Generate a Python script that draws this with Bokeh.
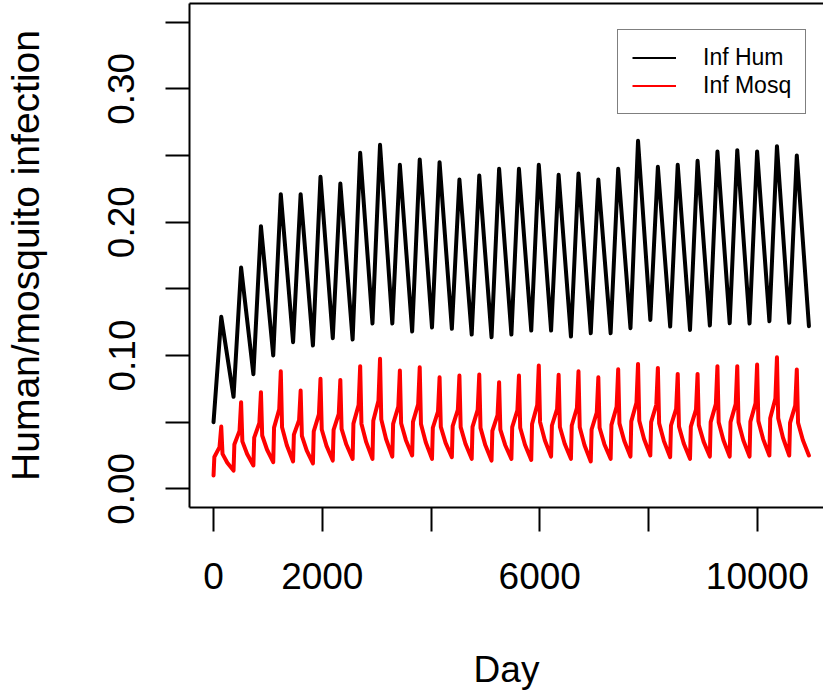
from bokeh.plotting import figure
from bokeh.models import (Range1d, FixedTicker, NumeralTickFormatter, LinearAxis,
                          Legend, LegendItem)
from bokeh.embed import file_html
from bokeh.resources import INLINE

# ---------------- data ----------------
hum_day = [0, 142, 368, 507, 733, 872, 1098, 1237, 1463, 1602, 1828, 1967, 2193, 2332,
           2558, 2697, 2923, 3062, 3288, 3427, 3653, 3792, 4018, 4157, 4383, 4522, 4748,
           4887, 5113, 5252, 5478, 5617, 5843, 5982, 6208, 6347, 6573, 6712, 6938, 7077,
           7303, 7442, 7668, 7807, 8033, 8172, 8398, 8537, 8763, 8902, 9128, 9267, 9493,
           9632, 9858, 9997, 10223, 10362, 10588, 10727, 10950]
hum_val = [0.050, 0.129, 0.069, 0.166, 0.086, 0.197, 0.100, 0.221, 0.110, 0.221, 0.1075,
           0.234, 0.113, 0.229, 0.112, 0.252, 0.124, 0.258, 0.124, 0.243, 0.118, 0.247,
           0.121, 0.245, 0.120, 0.232, 0.1157, 0.235, 0.1137, 0.240, 0.1157, 0.240, 0.1187,
           0.243, 0.1187, 0.2355, 0.1142, 0.2365, 0.1167, 0.232, 0.1167, 0.240, 0.1205,
           0.261, 0.1267, 0.2415, 0.1217, 0.243, 0.1192, 0.246, 0.1225, 0.253, 0.1242,
           0.254, 0.124, 0.253, 0.1257, 0.257, 0.1245, 0.250, 0.122]

mosq_day = [0, 15, 110, 142, 165, 253,
            368, 383, 478, 507, 530, 618,
            733, 748, 843, 872, 895, 983,
            1098, 1113, 1208, 1237, 1260, 1348,
            1463, 1478, 1573, 1602, 1625, 1713,
            1828, 1843, 1938, 1967, 1990, 2078,
            2193, 2208, 2303, 2332, 2355, 2443,
            2558, 2573, 2668, 2697, 2720, 2808,
            2923, 2938, 3033, 3062, 3085, 3173,
            3288, 3303, 3398, 3427, 3450, 3538,
            3653, 3668, 3763, 3792, 3815, 3903,
            4018, 4033, 4128, 4157, 4180, 4268,
            4383, 4398, 4493, 4522, 4545, 4633,
            4748, 4763, 4858, 4887, 4910, 4998,
            5113, 5128, 5223, 5252, 5275, 5363,
            5478, 5493, 5588, 5617, 5640, 5728,
            5843, 5858, 5953, 5982, 6005, 6093,
            6208, 6223, 6318, 6347, 6370, 6458,
            6573, 6588, 6683, 6712, 6735, 6823,
            6938, 6953, 7048, 7077, 7100, 7188,
            7303, 7318, 7413, 7442, 7465, 7553,
            7668, 7683, 7778, 7807, 7830, 7918,
            8033, 8048, 8143, 8172, 8195, 8283,
            8398, 8413, 8508, 8537, 8560, 8648,
            8763, 8778, 8873, 8902, 8925, 9013,
            9128, 9143, 9238, 9267, 9290, 9378,
            9493, 9508, 9603, 9632, 9655, 9743,
            9858, 9873, 9968, 9997, 10020, 10108,
            10223, 10238, 10333, 10362, 10385, 10473,
            10588, 10603, 10698, 10727, 10750, 10838,
            10950]
mosq_val = [0.010, 0.0239, 0.0313, 0.0467, 0.0262, 0.0196,
            0.0137, 0.0332, 0.0435, 0.0650, 0.0356, 0.0261,
            0.0175, 0.0384, 0.0494, 0.0725, 0.0400, 0.0295,
            0.0200, 0.0459, 0.0596, 0.0882, 0.0462, 0.0327,
            0.0205, 0.0407, 0.0514, 0.0737, 0.0398, 0.0288,
            0.0190, 0.0431, 0.0558, 0.0825, 0.0445, 0.0322,
            0.0212, 0.0442, 0.0563, 0.0817, 0.0450, 0.0332,
            0.0225, 0.0489, 0.0628, 0.0920, 0.0489, 0.0350,
            0.0225, 0.0510, 0.0660, 0.0975, 0.0521, 0.0374,
            0.0242, 0.0487, 0.0616, 0.0887, 0.0492, 0.0365,
            0.0250, 0.0502, 0.0634, 0.0912, 0.0486, 0.0349,
            0.0225, 0.0458, 0.0580, 0.0837, 0.0465, 0.0345,
            0.0237, 0.0470, 0.0593, 0.0850, 0.0463, 0.0338,
            0.0225, 0.0465, 0.0592, 0.0857, 0.0457, 0.0328,
            0.0212, 0.0435, 0.0553, 0.0800, 0.0444, 0.0329,
            0.0225, 0.0463, 0.0588, 0.0850, 0.0458, 0.0331,
            0.0217, 0.0486, 0.0628, 0.0925, 0.0502, 0.0365,
            0.0242, 0.0475, 0.0598, 0.0855, 0.0464, 0.0338,
            0.0225, 0.0475, 0.0606, 0.0882, 0.0462, 0.0327,
            0.0205, 0.0445, 0.0572, 0.0837, 0.0458, 0.0335,
            0.0225, 0.0480, 0.0615, 0.0897, 0.0491, 0.0360,
            0.0242, 0.0506, 0.0645, 0.0937, 0.0511, 0.0374,
            0.0250, 0.0500, 0.0631, 0.0907, 0.0492, 0.0358,
            0.0237, 0.0475, 0.0600, 0.0862, 0.0467, 0.0340,
            0.0225, 0.0467, 0.0594, 0.0862, 0.0478, 0.0354,
            0.0242, 0.0500, 0.0635, 0.0920, 0.0500, 0.0364,
            0.0242, 0.0500, 0.0635, 0.0920, 0.0500, 0.0364,
            0.0242, 0.0504, 0.0642, 0.0932, 0.0509, 0.0373,
            0.0250, 0.0530, 0.0677, 0.0987, 0.0530, 0.0383,
            0.0250, 0.0495, 0.0624, 0.0895, 0.0495, 0.0366,
            0.0250]

series_names = ["Inf Hum", "Inf Mosq"]
x_label_ticks = [0, 2000, 6000, 10000]
x_other_ticks = [4000, 8000]
y_label_ticks = [0.0, 0.1, 0.2, 0.3]
y_other_ticks = [0.05, 0.15, 0.25, 0.35]

FONT = "Liberation Sans"
NAN = float("nan")

p = figure(width=823, height=696, output_backend="svg", toolbar_location=None,
           x_range=Range1d(-442, 11218), y_range=Range1d(-0.014, 0.364),
           min_border_left=189, min_border_bottom=189, min_border_top=3,
           min_border_right=0,
           x_axis_label="Day", y_axis_label="Human/mosquito infection")
p.outline_line_color = None
p.grid.visible = False
p.background_fill_color = "white"
p.border_fill_color = "white"

r_h = p.line(hum_day, hum_val, line_color="black", line_width=4,
             line_join="round", line_cap="round")
r_m = p.line(mosq_day, mosq_val, line_color="#FF0000", line_width=4,
             line_join="round", line_cap="round")

# thin sample lines for the legend (no visible data)
leg_h = p.line([NAN], [NAN], line_color="black", line_width=2)
leg_m = p.line([NAN], [NAN], line_color="#FF0000", line_width=2)

# axes
for ax in (p.xaxis[0], p.yaxis[0]):
    ax.axis_line_width = 2
    ax.axis_line_color = "black"
    ax.major_tick_out = 24
    ax.major_tick_in = 0
    ax.minor_tick_out = 24
    ax.minor_tick_in = 0
    ax.major_tick_line_width = 2
    ax.minor_tick_line_width = 2
    ax.major_tick_line_color = "black"
    ax.minor_tick_line_color = "black"
    ax.major_label_text_font = FONT
    ax.major_label_text_font_size = "37px"
    ax.major_label_text_color = "black"
    ax.axis_label_text_font = FONT
    ax.axis_label_text_font_style = "normal"
    ax.axis_label_text_color = "black"

xa = p.xaxis[0]
xa.ticker = FixedTicker(ticks=x_label_ticks, minor_ticks=x_other_ticks)
xa.formatter = NumeralTickFormatter(format="0")
xa.major_label_standoff = 31
xa.axis_label_text_font_size = "37px"
xa.axis_label_standoff = 57

ya = p.yaxis[0]
ya.ticker = FixedTicker(ticks=y_label_ticks, minor_ticks=y_other_ticks)
ya.formatter = NumeralTickFormatter(format="0.00")
ya.major_label_orientation = "vertical"
ya.major_label_standoff = 31
ya.axis_label_text_font_size = "39px"
ya.axis_label_standoff = 59

top = LinearAxis(ticker=FixedTicker(ticks=[]), axis_line_width=2,
                 axis_line_color="black", major_tick_line_color=None,
                 minor_tick_line_color=None, major_label_text_font_size="0px",
                 major_tick_out=0, major_tick_in=0, minor_tick_out=0, minor_tick_in=0,
                 major_label_standoff=0)
p.add_layout(top, "above")

legend = Legend(items=[LegendItem(label=series_names[0], renderers=[leg_h]),
                       LegendItem(label=series_names[1], renderers=[leg_m])],
                location=(428, 393), margin=0, padding=14, spacing=1,
                label_height=27, glyph_height=27, glyph_width=44, label_standoff=27,
                label_text_font=FONT, label_text_font_size="23px",
                label_text_color="black",
                border_line_color="black", border_line_width=1.5,
                background_fill_color="white", background_fill_alpha=1.0)
p.add_layout(legend)

open("out.html", "w").write(file_html(p, INLINE))
